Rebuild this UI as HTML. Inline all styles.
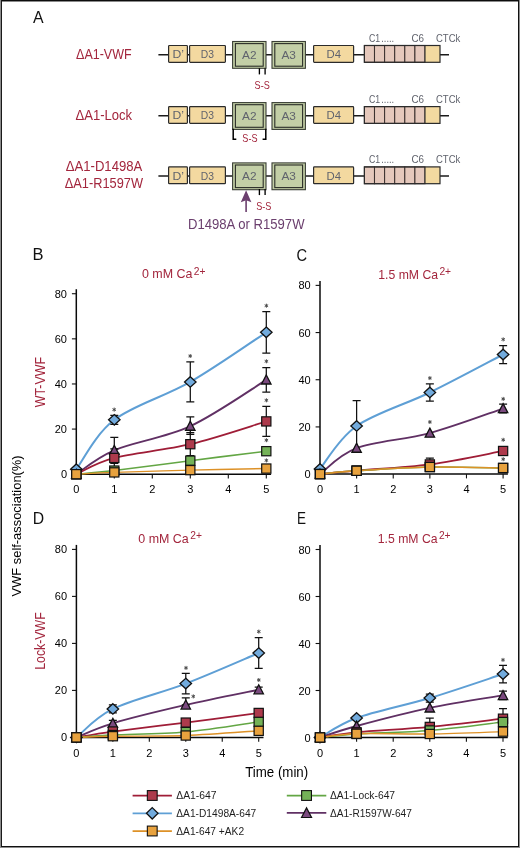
<!DOCTYPE html>
<html><head><meta charset="utf-8"><style>
html,body{margin:0;padding:0;background:#fff;}
body{width:520px;height:848px;overflow:hidden;position:relative;}
svg{position:absolute;left:0;top:0;font-family:"Liberation Sans",sans-serif;will-change:transform;}
</style></head><body>
<svg width="520" height="848" viewBox="0 0 520 848">
<rect x="0" y="0" width="520" height="848" fill="#fff"/>
<g>
<text x="33.1" y="22.6" font-size="16.5" fill="#111" text-anchor="start" textLength="10.6" lengthAdjust="spacingAndGlyphs" >A</text>
<text x="103.8" y="59.2" font-size="14.6" fill="#a3263d" text-anchor="middle" textLength="55.5" lengthAdjust="spacingAndGlyphs" >&#916;A1-VWF</text>
<text x="103.8" y="119.6" font-size="14.6" fill="#a3263d" text-anchor="middle" textLength="56.7" lengthAdjust="spacingAndGlyphs" >&#916;A1-Lock</text>
<text x="104.0" y="171.2" font-size="14.6" fill="#a3263d" text-anchor="middle" textLength="76.5" lengthAdjust="spacingAndGlyphs" >&#916;A1-D1498A</text>
<text x="103.9" y="187.5" font-size="14.6" fill="#a3263d" text-anchor="middle" textLength="78.2" lengthAdjust="spacingAndGlyphs" >&#916;A1-R1597W</text>
<line x1="158.4" y1="54.7" x2="449" y2="54.7" stroke="#1a1a1a" stroke-width="1.5"/>
<rect x="168.6" y="45.5" width="18.80" height="16.8" rx="0.8" fill="#f3d9a0" stroke="#2b2b2b" stroke-width="1.2"/>
<text x="172.5" y="58.300000000000004" font-size="10.8" fill="#60636d" text-anchor="start" textLength="11.5" lengthAdjust="spacingAndGlyphs" >D&#8217;</text>
<rect x="189.6" y="45.5" width="35.80" height="16.8" rx="0.8" fill="#f3d9a0" stroke="#2b2b2b" stroke-width="1.2"/>
<text x="200.8" y="58.300000000000004" font-size="10.8" fill="#60636d" text-anchor="start" textLength="13.2" lengthAdjust="spacingAndGlyphs" >D3</text>
<rect x="313.6" y="45.5" width="40.00" height="16.8" rx="0.8" fill="#f3d9a0" stroke="#2b2b2b" stroke-width="1.2"/>
<text x="326.5" y="58.300000000000004" font-size="10.8" fill="#60636d" text-anchor="start" textLength="14.5" lengthAdjust="spacingAndGlyphs" >D4</text>
<rect x="232.6" y="41.5" width="33.4" height="26.8" fill="#c3cfa6" stroke="#3a3f35" stroke-width="1.1"/>
<rect x="235.4" y="43.6" width="27.799999999999997" height="22.6" fill="#c3cfa6" stroke="#2a2d27" stroke-width="1.1"/>
<text x="249.29999999999998" y="58.6" font-size="11.4" fill="#60636d" text-anchor="middle" textLength="14.5" lengthAdjust="spacingAndGlyphs" >A2</text>
<rect x="272.0" y="41.5" width="33.4" height="26.8" fill="#c3cfa6" stroke="#3a3f35" stroke-width="1.1"/>
<rect x="274.8" y="43.6" width="27.799999999999997" height="22.6" fill="#c3cfa6" stroke="#2a2d27" stroke-width="1.1"/>
<text x="288.7" y="58.6" font-size="11.4" fill="#60636d" text-anchor="middle" textLength="14.5" lengthAdjust="spacingAndGlyphs" >A3</text>
<rect x="364.4" y="45.5" width="10.1" height="16.8" fill="#e5c8bc" stroke="#3d3230" stroke-width="1.05"/>
<rect x="374.5" y="45.5" width="10.1" height="16.8" fill="#e5c8bc" stroke="#3d3230" stroke-width="1.05"/>
<rect x="384.59999999999997" y="45.5" width="10.1" height="16.8" fill="#e5c8bc" stroke="#3d3230" stroke-width="1.05"/>
<rect x="394.7" y="45.5" width="10.1" height="16.8" fill="#e5c8bc" stroke="#3d3230" stroke-width="1.05"/>
<rect x="404.79999999999995" y="45.5" width="10.1" height="16.8" fill="#e5c8bc" stroke="#3d3230" stroke-width="1.05"/>
<rect x="414.9" y="45.5" width="10.1" height="16.8" fill="#e5c8bc" stroke="#3d3230" stroke-width="1.05"/>
<rect x="425.0" y="45.5" width="15.0" height="16.8" fill="#f3d9a0" stroke="none"/>
<rect x="364.4" y="45.5" width="75.60000000000002" height="16.8" fill="none" stroke="#2b2b2b" stroke-width="1.2"/>
<line x1="425.0" y1="45.5" x2="425.0" y2="62.3" stroke="#2b2b2b" stroke-width="1.1"/>
<text x="369.0" y="41.900000000000006" font-size="10.6" fill="#60636d" text-anchor="start" textLength="11.2" lengthAdjust="spacingAndGlyphs" >C1</text>
<text x="381.2" y="41.900000000000006" font-size="10.6" fill="#60636d" text-anchor="start" textLength="13.0" lengthAdjust="spacingAndGlyphs" >.....</text>
<text x="411.5" y="41.900000000000006" font-size="10.6" fill="#60636d" text-anchor="start" textLength="12.6" lengthAdjust="spacingAndGlyphs" >C6</text>
<text x="436.0" y="41.900000000000006" font-size="10.6" fill="#60636d" text-anchor="start" textLength="24.3" lengthAdjust="spacingAndGlyphs" >CTCk</text>
<line x1="158.4" y1="115.8" x2="449" y2="115.8" stroke="#1a1a1a" stroke-width="1.5"/>
<rect x="168.6" y="106.6" width="18.80" height="16.8" rx="0.8" fill="#f3d9a0" stroke="#2b2b2b" stroke-width="1.2"/>
<text x="172.5" y="119.39999999999999" font-size="10.8" fill="#60636d" text-anchor="start" textLength="11.5" lengthAdjust="spacingAndGlyphs" >D&#8217;</text>
<rect x="189.6" y="106.6" width="35.80" height="16.8" rx="0.8" fill="#f3d9a0" stroke="#2b2b2b" stroke-width="1.2"/>
<text x="200.8" y="119.39999999999999" font-size="10.8" fill="#60636d" text-anchor="start" textLength="13.2" lengthAdjust="spacingAndGlyphs" >D3</text>
<rect x="313.6" y="106.6" width="40.00" height="16.8" rx="0.8" fill="#f3d9a0" stroke="#2b2b2b" stroke-width="1.2"/>
<text x="326.5" y="119.39999999999999" font-size="10.8" fill="#60636d" text-anchor="start" textLength="14.5" lengthAdjust="spacingAndGlyphs" >D4</text>
<rect x="232.6" y="102.6" width="33.4" height="26.8" fill="#c3cfa6" stroke="#3a3f35" stroke-width="1.1"/>
<rect x="235.4" y="104.7" width="27.799999999999997" height="22.6" fill="#c3cfa6" stroke="#2a2d27" stroke-width="1.1"/>
<text x="249.29999999999998" y="119.7" font-size="11.4" fill="#60636d" text-anchor="middle" textLength="14.5" lengthAdjust="spacingAndGlyphs" >A2</text>
<rect x="272.0" y="102.6" width="33.4" height="26.8" fill="#c3cfa6" stroke="#3a3f35" stroke-width="1.1"/>
<rect x="274.8" y="104.7" width="27.799999999999997" height="22.6" fill="#c3cfa6" stroke="#2a2d27" stroke-width="1.1"/>
<text x="288.7" y="119.7" font-size="11.4" fill="#60636d" text-anchor="middle" textLength="14.5" lengthAdjust="spacingAndGlyphs" >A3</text>
<rect x="364.4" y="106.6" width="10.1" height="16.8" fill="#e5c8bc" stroke="#3d3230" stroke-width="1.05"/>
<rect x="374.5" y="106.6" width="10.1" height="16.8" fill="#e5c8bc" stroke="#3d3230" stroke-width="1.05"/>
<rect x="384.59999999999997" y="106.6" width="10.1" height="16.8" fill="#e5c8bc" stroke="#3d3230" stroke-width="1.05"/>
<rect x="394.7" y="106.6" width="10.1" height="16.8" fill="#e5c8bc" stroke="#3d3230" stroke-width="1.05"/>
<rect x="404.79999999999995" y="106.6" width="10.1" height="16.8" fill="#e5c8bc" stroke="#3d3230" stroke-width="1.05"/>
<rect x="414.9" y="106.6" width="10.1" height="16.8" fill="#e5c8bc" stroke="#3d3230" stroke-width="1.05"/>
<rect x="425.0" y="106.6" width="15.0" height="16.8" fill="#f3d9a0" stroke="none"/>
<rect x="364.4" y="106.6" width="75.60000000000002" height="16.8" fill="none" stroke="#2b2b2b" stroke-width="1.2"/>
<line x1="425.0" y1="106.6" x2="425.0" y2="123.39999999999999" stroke="#2b2b2b" stroke-width="1.1"/>
<text x="369.0" y="103.0" font-size="10.6" fill="#60636d" text-anchor="start" textLength="11.2" lengthAdjust="spacingAndGlyphs" >C1</text>
<text x="381.2" y="103.0" font-size="10.6" fill="#60636d" text-anchor="start" textLength="13.0" lengthAdjust="spacingAndGlyphs" >.....</text>
<text x="411.5" y="103.0" font-size="10.6" fill="#60636d" text-anchor="start" textLength="12.6" lengthAdjust="spacingAndGlyphs" >C6</text>
<text x="436.0" y="103.0" font-size="10.6" fill="#60636d" text-anchor="start" textLength="24.3" lengthAdjust="spacingAndGlyphs" >CTCk</text>
<line x1="158.4" y1="176.1" x2="449" y2="176.1" stroke="#1a1a1a" stroke-width="1.5"/>
<rect x="168.6" y="166.9" width="18.80" height="16.8" rx="0.8" fill="#f3d9a0" stroke="#2b2b2b" stroke-width="1.2"/>
<text x="172.5" y="179.7" font-size="10.8" fill="#60636d" text-anchor="start" textLength="11.5" lengthAdjust="spacingAndGlyphs" >D&#8217;</text>
<rect x="189.6" y="166.9" width="35.80" height="16.8" rx="0.8" fill="#f3d9a0" stroke="#2b2b2b" stroke-width="1.2"/>
<text x="200.8" y="179.7" font-size="10.8" fill="#60636d" text-anchor="start" textLength="13.2" lengthAdjust="spacingAndGlyphs" >D3</text>
<rect x="313.6" y="166.9" width="40.00" height="16.8" rx="0.8" fill="#f3d9a0" stroke="#2b2b2b" stroke-width="1.2"/>
<text x="326.5" y="179.7" font-size="10.8" fill="#60636d" text-anchor="start" textLength="14.5" lengthAdjust="spacingAndGlyphs" >D4</text>
<rect x="232.6" y="162.9" width="33.4" height="26.8" fill="#c3cfa6" stroke="#3a3f35" stroke-width="1.1"/>
<rect x="235.4" y="165.0" width="27.799999999999997" height="22.6" fill="#c3cfa6" stroke="#2a2d27" stroke-width="1.1"/>
<text x="249.29999999999998" y="180.0" font-size="11.4" fill="#60636d" text-anchor="middle" textLength="14.5" lengthAdjust="spacingAndGlyphs" >A2</text>
<rect x="272.0" y="162.9" width="33.4" height="26.8" fill="#c3cfa6" stroke="#3a3f35" stroke-width="1.1"/>
<rect x="274.8" y="165.0" width="27.799999999999997" height="22.6" fill="#c3cfa6" stroke="#2a2d27" stroke-width="1.1"/>
<text x="288.7" y="180.0" font-size="11.4" fill="#60636d" text-anchor="middle" textLength="14.5" lengthAdjust="spacingAndGlyphs" >A3</text>
<rect x="364.4" y="166.9" width="10.1" height="16.8" fill="#e5c8bc" stroke="#3d3230" stroke-width="1.05"/>
<rect x="374.5" y="166.9" width="10.1" height="16.8" fill="#e5c8bc" stroke="#3d3230" stroke-width="1.05"/>
<rect x="384.59999999999997" y="166.9" width="10.1" height="16.8" fill="#e5c8bc" stroke="#3d3230" stroke-width="1.05"/>
<rect x="394.7" y="166.9" width="10.1" height="16.8" fill="#e5c8bc" stroke="#3d3230" stroke-width="1.05"/>
<rect x="404.79999999999995" y="166.9" width="10.1" height="16.8" fill="#e5c8bc" stroke="#3d3230" stroke-width="1.05"/>
<rect x="414.9" y="166.9" width="10.1" height="16.8" fill="#e5c8bc" stroke="#3d3230" stroke-width="1.05"/>
<rect x="425.0" y="166.9" width="15.0" height="16.8" fill="#f3d9a0" stroke="none"/>
<rect x="364.4" y="166.9" width="75.60000000000002" height="16.8" fill="none" stroke="#2b2b2b" stroke-width="1.2"/>
<line x1="425.0" y1="166.9" x2="425.0" y2="183.70000000000002" stroke="#2b2b2b" stroke-width="1.1"/>
<text x="369.0" y="163.29999999999998" font-size="10.6" fill="#60636d" text-anchor="start" textLength="11.2" lengthAdjust="spacingAndGlyphs" >C1</text>
<text x="381.2" y="163.29999999999998" font-size="10.6" fill="#60636d" text-anchor="start" textLength="13.0" lengthAdjust="spacingAndGlyphs" >.....</text>
<text x="411.5" y="163.29999999999998" font-size="10.6" fill="#60636d" text-anchor="start" textLength="12.6" lengthAdjust="spacingAndGlyphs" >C6</text>
<text x="436.0" y="163.29999999999998" font-size="10.6" fill="#60636d" text-anchor="start" textLength="24.3" lengthAdjust="spacingAndGlyphs" >CTCk</text>
<line x1="259.4" y1="68.2" x2="259.4" y2="74.4" stroke="#000" stroke-width="1.35"/>
<line x1="265.1" y1="68.2" x2="265.1" y2="74.4" stroke="#000" stroke-width="1.35"/>
<text x="262.2" y="88.6" font-size="11.2" fill="#a3263d" text-anchor="middle" textLength="15.2" lengthAdjust="spacingAndGlyphs" >S-S</text>
<path d="M236.3 139.2 H233.2 V128.8 M262.6 139.2 H265.8 V128.8" fill="none" stroke="#000" stroke-width="1.5"/>
<text x="249.9" y="142.0" font-size="11.2" fill="#a3263d" text-anchor="middle" textLength="15.2" lengthAdjust="spacingAndGlyphs" >S-S</text>
<line x1="259.4" y1="189.0" x2="259.4" y2="195.1" stroke="#000" stroke-width="1.35"/>
<line x1="265.1" y1="189.0" x2="265.1" y2="195.1" stroke="#000" stroke-width="1.35"/>
<text x="263.8" y="210.0" font-size="11.2" fill="#a3263d" text-anchor="middle" textLength="15.2" lengthAdjust="spacingAndGlyphs" >S-S</text>
<line x1="246.1" y1="198" x2="246.1" y2="212" stroke="#6b3f6e" stroke-width="1.6"/>
<path d="M246.1 190.3 L251.4 202.2 L246.1 200.2 L240.8 202.2 Z" fill="#6b3f6e"/>
<text x="188.0" y="228.7" font-size="14.2" fill="#6b3f6e" text-anchor="start" textLength="116.5" lengthAdjust="spacingAndGlyphs" >D1498A or R1597W</text>
<line x1="76.30" y1="289.22" x2="76.30" y2="474.20" stroke="#0a0a0a" stroke-width="1.5"/>
<line x1="75.55" y1="474.20" x2="271.10" y2="474.20" stroke="#0a0a0a" stroke-width="1.5"/>
<text x="67.00" y="478.20" font-size="11" fill="#000" text-anchor="end" >0</text>
<line x1="71.90" y1="429.08" x2="76.30" y2="429.08" stroke="#111" stroke-width="1.1"/>
<text x="67.00" y="433.08" font-size="11" fill="#000" text-anchor="end" >20</text>
<line x1="71.90" y1="383.96" x2="76.30" y2="383.96" stroke="#111" stroke-width="1.1"/>
<text x="67.00" y="387.96" font-size="11" fill="#000" text-anchor="end" >40</text>
<line x1="71.90" y1="338.84" x2="76.30" y2="338.84" stroke="#111" stroke-width="1.1"/>
<text x="67.00" y="342.84" font-size="11" fill="#000" text-anchor="end" >60</text>
<line x1="71.90" y1="293.72" x2="76.30" y2="293.72" stroke="#111" stroke-width="1.1"/>
<text x="67.00" y="297.72" font-size="11" fill="#000" text-anchor="end" >80</text>
<text x="76.30" y="493.40" font-size="11" fill="#000" text-anchor="middle" >0</text>
<line x1="114.30" y1="474.20" x2="114.30" y2="478.50" stroke="#111" stroke-width="1.1"/>
<text x="114.30" y="493.40" font-size="11" fill="#000" text-anchor="middle" >1</text>
<line x1="152.30" y1="474.20" x2="152.30" y2="478.50" stroke="#111" stroke-width="1.1"/>
<text x="152.30" y="493.40" font-size="11" fill="#000" text-anchor="middle" >2</text>
<line x1="190.30" y1="474.20" x2="190.30" y2="478.50" stroke="#111" stroke-width="1.1"/>
<text x="190.30" y="493.40" font-size="11" fill="#000" text-anchor="middle" >3</text>
<line x1="228.30" y1="474.20" x2="228.30" y2="478.50" stroke="#111" stroke-width="1.1"/>
<text x="228.30" y="493.40" font-size="11" fill="#000" text-anchor="middle" >4</text>
<line x1="266.30" y1="474.20" x2="266.30" y2="478.50" stroke="#111" stroke-width="1.1"/>
<text x="266.30" y="493.40" font-size="11" fill="#000" text-anchor="middle" >5</text>
<path d="M76.30 469.24 C82.63 461.00 95.30 434.38 114.30 419.83 C133.30 405.28 164.97 396.52 190.30 381.93 C215.63 367.34 253.63 340.57 266.30 332.30" fill="none" stroke="#5e9fd5" stroke-width="2.0"/>
<path d="M76.30 474.20 C82.63 470.21 95.30 458.30 114.30 450.29 C133.30 442.28 164.97 437.88 190.30 426.15 C215.63 414.42 253.63 387.61 266.30 379.90" fill="none" stroke="#603064" stroke-width="1.85"/>
<path d="M76.30 474.20 C82.63 471.49 95.30 462.96 114.30 457.96 C133.30 452.96 164.97 450.29 190.30 444.20 C215.63 438.10 253.63 425.21 266.30 421.41" fill="none" stroke="#9f1d37" stroke-width="1.8"/>
<path d="M76.30 474.20 C82.63 473.60 95.30 472.85 114.30 470.59 C133.30 468.33 164.97 463.90 190.30 460.66 C215.63 457.43 253.63 452.77 266.30 451.19" fill="none" stroke="#63a644" stroke-width="1.55"/>
<path d="M76.30 474.20 C82.63 473.90 95.30 473.07 114.30 472.40 C133.30 471.72 164.97 470.78 190.30 470.14 C215.63 469.50 253.63 468.82 266.30 468.56" fill="none" stroke="#dd9127" stroke-width="1.45"/>
<path d="M114.30 415.33 V424.33 M110.30 415.33 H118.30 M110.30 424.33 H118.30" stroke="#111" stroke-width="1.25" fill="none"/>
<path d="M190.30 361.93 V401.93 M186.30 361.93 H194.30 M186.30 401.93 H194.30" stroke="#111" stroke-width="1.25" fill="none"/>
<path d="M266.30 311.60 V353.00 M262.30 311.60 H270.30 M262.30 353.00 H270.30" stroke="#111" stroke-width="1.25" fill="none"/>
<path d="M114.30 437.29 V463.29 M110.30 437.29 H118.30 M110.30 463.29 H118.30" stroke="#111" stroke-width="1.25" fill="none"/>
<path d="M190.30 416.95 V434.35 M186.30 416.95 H194.30 M186.30 434.35 H194.30" stroke="#111" stroke-width="1.25" fill="none"/>
<path d="M266.30 367.60 V392.20 M262.30 367.60 H270.30 M262.30 392.20 H270.30" stroke="#111" stroke-width="1.25" fill="none"/>
<path d="M114.30 448.96 V466.96 M110.30 448.96 H118.30 M110.30 466.96 H118.30" stroke="#111" stroke-width="1.25" fill="none"/>
<path d="M190.30 432.70 V455.70 M186.30 432.70 H194.30 M186.30 455.70 H194.30" stroke="#111" stroke-width="1.25" fill="none"/>
<path d="M266.30 406.41 V436.41 M262.30 406.41 H270.30 M262.30 436.41 H270.30" stroke="#111" stroke-width="1.25" fill="none"/>
<path d="M76.30 463.99 L82.05 469.24 L76.30 474.49 L70.55 469.24 Z" fill="#72abdd" stroke="#111" stroke-width="1.3"/>
<path d="M114.30 414.58 L120.05 419.83 L114.30 425.08 L108.55 419.83 Z" fill="#72abdd" stroke="#111" stroke-width="1.3"/>
<path d="M190.30 376.68 L196.05 381.93 L190.30 387.18 L184.55 381.93 Z" fill="#72abdd" stroke="#111" stroke-width="1.3"/>
<path d="M266.30 327.05 L272.05 332.30 L266.30 337.55 L260.55 332.30 Z" fill="#72abdd" stroke="#111" stroke-width="1.3"/>
<path d="M76.30 469.30 L81.00 478.30 L71.60 478.30 Z" fill="#7b4a7f" stroke="#111" stroke-width="1.3" stroke-linejoin="miter"/>
<path d="M114.30 445.39 L119.00 454.39 L109.60 454.39 Z" fill="#7b4a7f" stroke="#111" stroke-width="1.3" stroke-linejoin="miter"/>
<path d="M190.30 421.25 L195.00 430.25 L185.60 430.25 Z" fill="#7b4a7f" stroke="#111" stroke-width="1.3" stroke-linejoin="miter"/>
<path d="M266.30 375.00 L271.00 384.00 L261.60 384.00 Z" fill="#7b4a7f" stroke="#111" stroke-width="1.3" stroke-linejoin="miter"/>
<rect x="71.70" y="469.60" width="9.2" height="9.2" fill="#ad3a4c" stroke="#111" stroke-width="1.2"/>
<rect x="109.70" y="453.36" width="9.2" height="9.2" fill="#ad3a4c" stroke="#111" stroke-width="1.2"/>
<rect x="185.70" y="439.60" width="9.2" height="9.2" fill="#ad3a4c" stroke="#111" stroke-width="1.2"/>
<rect x="261.70" y="416.81" width="9.2" height="9.2" fill="#ad3a4c" stroke="#111" stroke-width="1.2"/>
<rect x="71.70" y="469.60" width="9.2" height="9.2" fill="#74b257" stroke="#111" stroke-width="1.2"/>
<rect x="109.70" y="465.99" width="9.2" height="9.2" fill="#74b257" stroke="#111" stroke-width="1.2"/>
<rect x="185.70" y="456.06" width="9.2" height="9.2" fill="#74b257" stroke="#111" stroke-width="1.2"/>
<rect x="261.70" y="446.59" width="9.2" height="9.2" fill="#74b257" stroke="#111" stroke-width="1.2"/>
<rect x="71.70" y="469.60" width="9.2" height="9.2" fill="#e8a23e" stroke="#111" stroke-width="1.2"/>
<rect x="109.70" y="467.80" width="9.2" height="9.2" fill="#e8a23e" stroke="#111" stroke-width="1.2"/>
<rect x="185.70" y="465.54" width="9.2" height="9.2" fill="#e8a23e" stroke="#111" stroke-width="1.2"/>
<rect x="261.70" y="463.96" width="9.2" height="9.2" fill="#e8a23e" stroke="#111" stroke-width="1.2"/>
<path d="M114.20 407.60 L114.20 411.60 M112.47 408.60 L115.93 410.60 M115.93 408.60 L112.47 410.60 " stroke="#4a4a4a" stroke-width="1.0" fill="none"/>
<path d="M190.20 354.00 L190.20 358.00 M188.47 355.00 L191.93 357.00 M191.93 355.00 L188.47 357.00 " stroke="#4a4a4a" stroke-width="1.0" fill="none"/>
<path d="M266.40 303.70 L266.40 307.70 M264.67 304.70 L268.13 306.70 M268.13 304.70 L264.67 306.70 " stroke="#4a4a4a" stroke-width="1.0" fill="none"/>
<path d="M266.40 359.30 L266.40 363.30 M264.67 360.30 L268.13 362.30 M268.13 360.30 L264.67 362.30 " stroke="#4a4a4a" stroke-width="1.0" fill="none"/>
<path d="M266.40 398.30 L266.40 402.30 M264.67 399.30 L268.13 401.30 M268.13 399.30 L264.67 401.30 " stroke="#4a4a4a" stroke-width="1.0" fill="none"/>
<path d="M266.40 438.20 L266.40 442.20 M264.67 439.20 L268.13 441.20 M268.13 439.20 L264.67 441.20 " stroke="#4a4a4a" stroke-width="1.0" fill="none"/>
<path d="M266.40 458.40 L266.40 462.40 M264.67 459.40 L268.13 461.40 M268.13 459.40 L264.67 461.40 " stroke="#4a4a4a" stroke-width="1.0" fill="none"/>
<line x1="320.00" y1="280.88" x2="320.00" y2="474.10" stroke="#0a0a0a" stroke-width="1.5"/>
<line x1="319.25" y1="474.10" x2="507.90" y2="474.10" stroke="#0a0a0a" stroke-width="1.5"/>
<text x="310.70" y="478.10" font-size="11" fill="#000" text-anchor="end" >0</text>
<line x1="315.60" y1="426.92" x2="320.00" y2="426.92" stroke="#111" stroke-width="1.1"/>
<text x="310.70" y="430.92" font-size="11" fill="#000" text-anchor="end" >20</text>
<line x1="315.60" y1="379.74" x2="320.00" y2="379.74" stroke="#111" stroke-width="1.1"/>
<text x="310.70" y="383.74" font-size="11" fill="#000" text-anchor="end" >40</text>
<line x1="315.60" y1="332.56" x2="320.00" y2="332.56" stroke="#111" stroke-width="1.1"/>
<text x="310.70" y="336.56" font-size="11" fill="#000" text-anchor="end" >60</text>
<line x1="315.60" y1="285.38" x2="320.00" y2="285.38" stroke="#111" stroke-width="1.1"/>
<text x="310.70" y="289.38" font-size="11" fill="#000" text-anchor="end" >80</text>
<text x="320.00" y="493.30" font-size="11" fill="#000" text-anchor="middle" >0</text>
<line x1="356.62" y1="474.10" x2="356.62" y2="478.40" stroke="#111" stroke-width="1.1"/>
<text x="356.62" y="493.30" font-size="11" fill="#000" text-anchor="middle" >1</text>
<line x1="393.24" y1="474.10" x2="393.24" y2="478.40" stroke="#111" stroke-width="1.1"/>
<text x="393.24" y="493.30" font-size="11" fill="#000" text-anchor="middle" >2</text>
<line x1="429.86" y1="474.10" x2="429.86" y2="478.40" stroke="#111" stroke-width="1.1"/>
<text x="429.86" y="493.30" font-size="11" fill="#000" text-anchor="middle" >3</text>
<line x1="466.48" y1="474.10" x2="466.48" y2="478.40" stroke="#111" stroke-width="1.1"/>
<text x="466.48" y="493.30" font-size="11" fill="#000" text-anchor="middle" >4</text>
<line x1="503.10" y1="474.10" x2="503.10" y2="478.40" stroke="#111" stroke-width="1.1"/>
<text x="503.10" y="493.30" font-size="11" fill="#000" text-anchor="middle" >5</text>
<path d="M320.00 468.91 C326.10 461.75 338.31 438.72 356.62 425.98 C374.93 413.24 405.45 404.39 429.86 392.48 C454.27 380.57 490.89 360.83 503.10 354.50" fill="none" stroke="#5e9fd5" stroke-width="2.0"/>
<path d="M320.00 474.10 C326.10 469.78 338.31 454.99 356.62 448.15 C374.93 441.31 405.45 439.66 429.86 433.05 C454.27 426.45 490.89 412.61 503.10 408.52" fill="none" stroke="#603064" stroke-width="1.85"/>
<path d="M320.00 474.10 C326.10 473.51 338.31 472.17 356.62 470.56 C374.93 468.95 405.45 467.69 429.86 464.43 C454.27 461.16 490.89 453.22 503.10 450.98" fill="none" stroke="#9f1d37" stroke-width="1.8"/>
<path d="M320.00 474.10 C326.10 473.55 338.31 471.98 356.62 470.80 C374.93 469.62 405.45 467.49 429.86 467.02 C454.27 466.55 490.89 467.81 503.10 467.97" fill="none" stroke="#63a644" stroke-width="1.55"/>
<path d="M320.00 474.10 C326.10 473.55 338.31 471.98 356.62 470.80 C374.93 469.62 405.45 467.49 429.86 467.02 C454.27 466.55 490.89 467.81 503.10 467.97" fill="none" stroke="#dd9127" stroke-width="1.45"/>
<path d="M356.62 400.68 V451.28 M352.62 400.68 H360.62 M352.62 451.28 H360.62" stroke="#111" stroke-width="1.25" fill="none"/>
<path d="M429.86 383.88 V401.08 M425.86 383.88 H433.86 M425.86 401.08 H433.86" stroke="#111" stroke-width="1.25" fill="none"/>
<path d="M503.10 345.50 V363.50 M499.10 345.50 H507.10 M499.10 363.50 H507.10" stroke="#111" stroke-width="1.25" fill="none"/>
<path d="M503.10 404.22 V412.82 M499.10 404.22 H507.10 M499.10 412.82 H507.10" stroke="#111" stroke-width="1.25" fill="none"/>
<path d="M429.86 458.03 V470.83 M425.86 458.03 H433.86 M425.86 470.83 H433.86" stroke="#111" stroke-width="1.25" fill="none"/>
<path d="M320.00 463.66 L325.75 468.91 L320.00 474.16 L314.25 468.91 Z" fill="#72abdd" stroke="#111" stroke-width="1.3"/>
<path d="M356.62 420.73 L362.37 425.98 L356.62 431.23 L350.87 425.98 Z" fill="#72abdd" stroke="#111" stroke-width="1.3"/>
<path d="M429.86 387.23 L435.61 392.48 L429.86 397.73 L424.11 392.48 Z" fill="#72abdd" stroke="#111" stroke-width="1.3"/>
<path d="M503.10 349.25 L508.85 354.50 L503.10 359.75 L497.35 354.50 Z" fill="#72abdd" stroke="#111" stroke-width="1.3"/>
<path d="M320.00 469.20 L324.70 478.20 L315.30 478.20 Z" fill="#7b4a7f" stroke="#111" stroke-width="1.3" stroke-linejoin="miter"/>
<path d="M356.62 443.25 L361.32 452.25 L351.92 452.25 Z" fill="#7b4a7f" stroke="#111" stroke-width="1.3" stroke-linejoin="miter"/>
<path d="M429.86 428.15 L434.56 437.15 L425.16 437.15 Z" fill="#7b4a7f" stroke="#111" stroke-width="1.3" stroke-linejoin="miter"/>
<path d="M503.10 403.62 L507.80 412.62 L498.40 412.62 Z" fill="#7b4a7f" stroke="#111" stroke-width="1.3" stroke-linejoin="miter"/>
<rect x="315.40" y="469.50" width="9.2" height="9.2" fill="#ad3a4c" stroke="#111" stroke-width="1.2"/>
<rect x="352.02" y="465.96" width="9.2" height="9.2" fill="#ad3a4c" stroke="#111" stroke-width="1.2"/>
<rect x="425.26" y="459.83" width="9.2" height="9.2" fill="#ad3a4c" stroke="#111" stroke-width="1.2"/>
<rect x="498.50" y="446.38" width="9.2" height="9.2" fill="#ad3a4c" stroke="#111" stroke-width="1.2"/>
<rect x="315.40" y="469.50" width="9.2" height="9.2" fill="#74b257" stroke="#111" stroke-width="1.2"/>
<rect x="352.02" y="466.20" width="9.2" height="9.2" fill="#74b257" stroke="#111" stroke-width="1.2"/>
<rect x="425.26" y="462.42" width="9.2" height="9.2" fill="#74b257" stroke="#111" stroke-width="1.2"/>
<rect x="498.50" y="463.37" width="9.2" height="9.2" fill="#74b257" stroke="#111" stroke-width="1.2"/>
<rect x="315.40" y="469.50" width="9.2" height="9.2" fill="#e8a23e" stroke="#111" stroke-width="1.2"/>
<rect x="352.02" y="466.20" width="9.2" height="9.2" fill="#e8a23e" stroke="#111" stroke-width="1.2"/>
<rect x="425.26" y="462.42" width="9.2" height="9.2" fill="#e8a23e" stroke="#111" stroke-width="1.2"/>
<rect x="498.50" y="463.37" width="9.2" height="9.2" fill="#e8a23e" stroke="#111" stroke-width="1.2"/>
<path d="M429.90 376.10 L429.90 380.10 M428.17 377.10 L431.63 379.10 M431.63 377.10 L428.17 379.10 " stroke="#4a4a4a" stroke-width="1.0" fill="none"/>
<path d="M429.90 420.00 L429.90 424.00 M428.17 421.00 L431.63 423.00 M431.63 421.00 L428.17 423.00 " stroke="#4a4a4a" stroke-width="1.0" fill="none"/>
<path d="M503.20 337.40 L503.20 341.40 M501.47 338.40 L504.93 340.40 M504.93 338.40 L501.47 340.40 " stroke="#4a4a4a" stroke-width="1.0" fill="none"/>
<path d="M503.20 396.90 L503.20 400.90 M501.47 397.90 L504.93 399.90 M504.93 397.90 L501.47 399.90 " stroke="#4a4a4a" stroke-width="1.0" fill="none"/>
<path d="M503.20 437.80 L503.20 441.80 M501.47 438.80 L504.93 440.80 M504.93 438.80 L501.47 440.80 " stroke="#4a4a4a" stroke-width="1.0" fill="none"/>
<path d="M503.20 457.20 L503.20 461.20 M501.47 458.20 L504.93 460.20 M504.93 458.20 L501.47 460.20 " stroke="#4a4a4a" stroke-width="1.0" fill="none"/>
<line x1="76.40" y1="544.90" x2="76.40" y2="737.40" stroke="#0a0a0a" stroke-width="1.5"/>
<line x1="75.65" y1="737.40" x2="263.50" y2="737.40" stroke="#0a0a0a" stroke-width="1.5"/>
<text x="67.10" y="741.40" font-size="11" fill="#000" text-anchor="end" >0</text>
<line x1="72.00" y1="690.40" x2="76.40" y2="690.40" stroke="#111" stroke-width="1.1"/>
<text x="67.10" y="694.40" font-size="11" fill="#000" text-anchor="end" >20</text>
<line x1="72.00" y1="643.40" x2="76.40" y2="643.40" stroke="#111" stroke-width="1.1"/>
<text x="67.10" y="647.40" font-size="11" fill="#000" text-anchor="end" >40</text>
<line x1="72.00" y1="596.40" x2="76.40" y2="596.40" stroke="#111" stroke-width="1.1"/>
<text x="67.10" y="600.40" font-size="11" fill="#000" text-anchor="end" >60</text>
<line x1="72.00" y1="549.40" x2="76.40" y2="549.40" stroke="#111" stroke-width="1.1"/>
<text x="67.10" y="553.40" font-size="11" fill="#000" text-anchor="end" >80</text>
<text x="76.40" y="756.60" font-size="11" fill="#000" text-anchor="middle" >0</text>
<line x1="112.86" y1="737.40" x2="112.86" y2="741.70" stroke="#111" stroke-width="1.1"/>
<text x="112.86" y="756.60" font-size="11" fill="#000" text-anchor="middle" >1</text>
<line x1="149.32" y1="737.40" x2="149.32" y2="741.70" stroke="#111" stroke-width="1.1"/>
<text x="149.32" y="756.60" font-size="11" fill="#000" text-anchor="middle" >2</text>
<line x1="185.78" y1="737.40" x2="185.78" y2="741.70" stroke="#111" stroke-width="1.1"/>
<text x="185.78" y="756.60" font-size="11" fill="#000" text-anchor="middle" >3</text>
<line x1="222.24" y1="737.40" x2="222.24" y2="741.70" stroke="#111" stroke-width="1.1"/>
<text x="222.24" y="756.60" font-size="11" fill="#000" text-anchor="middle" >4</text>
<line x1="258.70" y1="737.40" x2="258.70" y2="741.70" stroke="#111" stroke-width="1.1"/>
<text x="258.70" y="756.60" font-size="11" fill="#000" text-anchor="middle" >5</text>
<path d="M76.40 737.40 C82.48 732.66 94.63 717.93 112.86 708.97 C131.09 700.00 161.47 692.91 185.78 683.59 C210.09 674.26 246.55 658.13 258.70 653.03" fill="none" stroke="#5e9fd5" stroke-width="2.0"/>
<path d="M76.40 737.40 C82.48 735.05 94.63 728.70 112.86 723.30 C131.09 717.89 161.47 710.57 185.78 704.97 C210.09 699.37 246.55 692.24 258.70 689.69" fill="none" stroke="#603064" stroke-width="1.85"/>
<path d="M76.40 737.40 C82.48 736.42 94.63 733.99 112.86 731.52 C131.09 729.06 161.47 725.69 185.78 722.60 C210.09 719.50 246.55 714.57 258.70 712.96" fill="none" stroke="#9f1d37" stroke-width="1.8"/>
<path d="M76.40 737.40 C82.48 737.01 94.63 735.95 112.86 735.05 C131.09 734.15 161.47 734.19 185.78 732.00 C210.09 729.80 246.55 723.57 258.70 721.89" fill="none" stroke="#63a644" stroke-width="1.55"/>
<path d="M76.40 737.40 C82.48 737.20 94.63 736.54 112.86 736.23 C131.09 735.91 161.47 736.42 185.78 735.52 C210.09 734.62 246.55 731.60 258.70 730.82" fill="none" stroke="#dd9127" stroke-width="1.45"/>
<path d="M112.86 704.97 V712.97 M108.86 704.97 H116.86 M108.86 712.97 H116.86" stroke="#111" stroke-width="1.25" fill="none"/>
<path d="M185.78 673.29 V693.88 M181.78 673.29 H189.78 M181.78 693.88 H189.78" stroke="#111" stroke-width="1.25" fill="none"/>
<path d="M258.70 637.63 V668.43 M254.70 637.63 H262.70 M254.70 668.43 H262.70" stroke="#111" stroke-width="1.25" fill="none"/>
<path d="M112.86 720.30 V726.30 M108.86 720.30 H116.86 M108.86 726.30 H116.86" stroke="#111" stroke-width="1.25" fill="none"/>
<path d="M185.78 697.77 V704.97 M181.78 697.77 H189.78 M181.78 704.97 H189.78" stroke="#111" stroke-width="1.25" fill="none"/>
<path d="M258.70 687.19 V692.19 M254.70 687.19 H262.70 M254.70 692.19 H262.70" stroke="#111" stroke-width="1.25" fill="none"/>
<path d="M76.40 732.15 L82.15 737.40 L76.40 742.65 L70.65 737.40 Z" fill="#72abdd" stroke="#111" stroke-width="1.3"/>
<path d="M112.86 703.72 L118.61 708.97 L112.86 714.22 L107.11 708.97 Z" fill="#72abdd" stroke="#111" stroke-width="1.3"/>
<path d="M185.78 678.34 L191.53 683.59 L185.78 688.84 L180.03 683.59 Z" fill="#72abdd" stroke="#111" stroke-width="1.3"/>
<path d="M258.70 647.78 L264.45 653.03 L258.70 658.28 L252.95 653.03 Z" fill="#72abdd" stroke="#111" stroke-width="1.3"/>
<path d="M76.40 732.50 L81.10 741.50 L71.70 741.50 Z" fill="#7b4a7f" stroke="#111" stroke-width="1.3" stroke-linejoin="miter"/>
<path d="M112.86 718.40 L117.56 727.40 L108.16 727.40 Z" fill="#7b4a7f" stroke="#111" stroke-width="1.3" stroke-linejoin="miter"/>
<path d="M185.78 700.07 L190.48 709.07 L181.08 709.07 Z" fill="#7b4a7f" stroke="#111" stroke-width="1.3" stroke-linejoin="miter"/>
<path d="M258.70 684.79 L263.40 693.79 L254.00 693.79 Z" fill="#7b4a7f" stroke="#111" stroke-width="1.3" stroke-linejoin="miter"/>
<rect x="71.80" y="732.80" width="9.2" height="9.2" fill="#ad3a4c" stroke="#111" stroke-width="1.2"/>
<rect x="108.26" y="726.92" width="9.2" height="9.2" fill="#ad3a4c" stroke="#111" stroke-width="1.2"/>
<rect x="181.18" y="718.00" width="9.2" height="9.2" fill="#ad3a4c" stroke="#111" stroke-width="1.2"/>
<rect x="254.10" y="708.36" width="9.2" height="9.2" fill="#ad3a4c" stroke="#111" stroke-width="1.2"/>
<rect x="71.80" y="732.80" width="9.2" height="9.2" fill="#74b257" stroke="#111" stroke-width="1.2"/>
<rect x="108.26" y="730.45" width="9.2" height="9.2" fill="#74b257" stroke="#111" stroke-width="1.2"/>
<rect x="181.18" y="727.39" width="9.2" height="9.2" fill="#74b257" stroke="#111" stroke-width="1.2"/>
<rect x="254.10" y="717.29" width="9.2" height="9.2" fill="#74b257" stroke="#111" stroke-width="1.2"/>
<rect x="71.80" y="732.80" width="9.2" height="9.2" fill="#e8a23e" stroke="#111" stroke-width="1.2"/>
<rect x="108.26" y="731.62" width="9.2" height="9.2" fill="#e8a23e" stroke="#111" stroke-width="1.2"/>
<rect x="181.18" y="730.92" width="9.2" height="9.2" fill="#e8a23e" stroke="#111" stroke-width="1.2"/>
<rect x="254.10" y="726.22" width="9.2" height="9.2" fill="#e8a23e" stroke="#111" stroke-width="1.2"/>
<path d="M186.00 665.90 L186.00 669.90 M184.27 666.90 L187.73 668.90 M187.73 666.90 L184.27 668.90 " stroke="#4a4a4a" stroke-width="1.0" fill="none"/>
<path d="M193.30 694.40 L193.30 698.40 M191.57 695.40 L195.03 697.40 M195.03 695.40 L191.57 697.40 " stroke="#4a4a4a" stroke-width="1.0" fill="none"/>
<path d="M258.80 629.60 L258.80 633.60 M257.07 630.60 L260.53 632.60 M260.53 630.60 L257.07 632.60 " stroke="#4a4a4a" stroke-width="1.0" fill="none"/>
<path d="M258.80 678.00 L258.80 682.00 M257.07 679.00 L260.53 681.00 M260.53 679.00 L257.07 681.00 " stroke="#4a4a4a" stroke-width="1.0" fill="none"/>
<line x1="320.00" y1="545.00" x2="320.00" y2="737.50" stroke="#0a0a0a" stroke-width="1.5"/>
<line x1="319.25" y1="737.50" x2="507.80" y2="737.50" stroke="#0a0a0a" stroke-width="1.5"/>
<text x="310.70" y="741.50" font-size="11" fill="#000" text-anchor="end" >0</text>
<line x1="315.60" y1="690.50" x2="320.00" y2="690.50" stroke="#111" stroke-width="1.1"/>
<text x="310.70" y="694.50" font-size="11" fill="#000" text-anchor="end" >20</text>
<line x1="315.60" y1="643.50" x2="320.00" y2="643.50" stroke="#111" stroke-width="1.1"/>
<text x="310.70" y="647.50" font-size="11" fill="#000" text-anchor="end" >40</text>
<line x1="315.60" y1="596.50" x2="320.00" y2="596.50" stroke="#111" stroke-width="1.1"/>
<text x="310.70" y="600.50" font-size="11" fill="#000" text-anchor="end" >60</text>
<line x1="315.60" y1="549.50" x2="320.00" y2="549.50" stroke="#111" stroke-width="1.1"/>
<text x="310.70" y="553.50" font-size="11" fill="#000" text-anchor="end" >80</text>
<text x="320.00" y="756.70" font-size="11" fill="#000" text-anchor="middle" >0</text>
<line x1="356.60" y1="737.50" x2="356.60" y2="741.80" stroke="#111" stroke-width="1.1"/>
<text x="356.60" y="756.70" font-size="11" fill="#000" text-anchor="middle" >1</text>
<line x1="393.20" y1="737.50" x2="393.20" y2="741.80" stroke="#111" stroke-width="1.1"/>
<text x="393.20" y="756.70" font-size="11" fill="#000" text-anchor="middle" >2</text>
<line x1="429.80" y1="737.50" x2="429.80" y2="741.80" stroke="#111" stroke-width="1.1"/>
<text x="429.80" y="756.70" font-size="11" fill="#000" text-anchor="middle" >3</text>
<line x1="466.40" y1="737.50" x2="466.40" y2="741.80" stroke="#111" stroke-width="1.1"/>
<text x="466.40" y="756.70" font-size="11" fill="#000" text-anchor="middle" >4</text>
<line x1="503.00" y1="737.50" x2="503.00" y2="741.80" stroke="#111" stroke-width="1.1"/>
<text x="503.00" y="756.70" font-size="11" fill="#000" text-anchor="middle" >5</text>
<path d="M320.00 737.50 C326.10 734.25 338.30 724.58 356.60 718.00 C374.90 711.41 405.40 705.34 429.80 698.02 C454.20 690.70 490.80 678.04 503.00 674.05" fill="none" stroke="#5e9fd5" stroke-width="2.0"/>
<path d="M320.00 737.50 C326.10 735.58 338.30 730.92 356.60 725.99 C374.90 721.05 405.40 712.98 429.80 707.89 C454.20 702.80 490.80 697.51 503.00 695.43" fill="none" stroke="#603064" stroke-width="1.85"/>
<path d="M320.00 737.50 C326.10 736.64 338.30 734.09 356.60 732.33 C374.90 730.57 405.40 729.20 429.80 726.92 C454.20 724.65 490.80 720.07 503.00 718.70" fill="none" stroke="#9f1d37" stroke-width="1.8"/>
<path d="M320.00 737.50 C326.10 736.91 338.30 735.15 356.60 733.98 C374.90 732.80 405.40 732.45 429.80 730.45 C454.20 728.45 490.80 723.40 503.00 721.99" fill="none" stroke="#63a644" stroke-width="1.55"/>
<path d="M320.00 737.50 C326.10 736.87 338.30 734.33 356.60 733.74 C374.90 733.15 405.40 734.33 429.80 733.98 C454.20 733.62 490.80 732.02 503.00 731.62" fill="none" stroke="#dd9127" stroke-width="1.45"/>
<path d="M429.80 694.02 V702.02 M425.80 694.02 H433.80 M425.80 702.02 H433.80" stroke="#111" stroke-width="1.25" fill="none"/>
<path d="M503.00 665.25 V682.85 M499.00 665.25 H507.00 M499.00 682.85 H507.00" stroke="#111" stroke-width="1.25" fill="none"/>
<path d="M503.00 691.23 V699.63 M499.00 691.23 H507.00 M499.00 699.63 H507.00" stroke="#111" stroke-width="1.25" fill="none"/>
<path d="M429.80 718.12 V735.72 M425.80 718.12 H433.80 M425.80 735.72 H433.80" stroke="#111" stroke-width="1.25" fill="none"/>
<path d="M503.00 708.70 V728.70 M499.00 708.70 H507.00 M499.00 728.70 H507.00" stroke="#111" stroke-width="1.25" fill="none"/>
<path d="M320.00 732.25 L325.75 737.50 L320.00 742.75 L314.25 737.50 Z" fill="#72abdd" stroke="#111" stroke-width="1.3"/>
<path d="M356.60 712.75 L362.35 718.00 L356.60 723.25 L350.85 718.00 Z" fill="#72abdd" stroke="#111" stroke-width="1.3"/>
<path d="M429.80 692.77 L435.55 698.02 L429.80 703.27 L424.05 698.02 Z" fill="#72abdd" stroke="#111" stroke-width="1.3"/>
<path d="M503.00 668.80 L508.75 674.05 L503.00 679.30 L497.25 674.05 Z" fill="#72abdd" stroke="#111" stroke-width="1.3"/>
<path d="M320.00 732.60 L324.70 741.60 L315.30 741.60 Z" fill="#7b4a7f" stroke="#111" stroke-width="1.3" stroke-linejoin="miter"/>
<path d="M356.60 721.09 L361.30 730.09 L351.90 730.09 Z" fill="#7b4a7f" stroke="#111" stroke-width="1.3" stroke-linejoin="miter"/>
<path d="M429.80 702.99 L434.50 711.99 L425.10 711.99 Z" fill="#7b4a7f" stroke="#111" stroke-width="1.3" stroke-linejoin="miter"/>
<path d="M503.00 690.53 L507.70 699.53 L498.30 699.53 Z" fill="#7b4a7f" stroke="#111" stroke-width="1.3" stroke-linejoin="miter"/>
<rect x="315.40" y="732.90" width="9.2" height="9.2" fill="#ad3a4c" stroke="#111" stroke-width="1.2"/>
<rect x="352.00" y="727.73" width="9.2" height="9.2" fill="#ad3a4c" stroke="#111" stroke-width="1.2"/>
<rect x="425.20" y="722.32" width="9.2" height="9.2" fill="#ad3a4c" stroke="#111" stroke-width="1.2"/>
<rect x="498.40" y="714.10" width="9.2" height="9.2" fill="#ad3a4c" stroke="#111" stroke-width="1.2"/>
<rect x="315.40" y="732.90" width="9.2" height="9.2" fill="#74b257" stroke="#111" stroke-width="1.2"/>
<rect x="352.00" y="729.38" width="9.2" height="9.2" fill="#74b257" stroke="#111" stroke-width="1.2"/>
<rect x="425.20" y="725.85" width="9.2" height="9.2" fill="#74b257" stroke="#111" stroke-width="1.2"/>
<rect x="498.40" y="717.39" width="9.2" height="9.2" fill="#74b257" stroke="#111" stroke-width="1.2"/>
<rect x="315.40" y="732.90" width="9.2" height="9.2" fill="#e8a23e" stroke="#111" stroke-width="1.2"/>
<rect x="352.00" y="729.14" width="9.2" height="9.2" fill="#e8a23e" stroke="#111" stroke-width="1.2"/>
<rect x="425.20" y="729.38" width="9.2" height="9.2" fill="#e8a23e" stroke="#111" stroke-width="1.2"/>
<rect x="498.40" y="727.02" width="9.2" height="9.2" fill="#e8a23e" stroke="#111" stroke-width="1.2"/>
<path d="M503.00 657.90 L503.00 661.90 M501.27 658.90 L504.73 660.90 M504.73 658.90 L501.27 660.90 " stroke="#4a4a4a" stroke-width="1.0" fill="none"/>
<text x="32.6" y="260.4" font-size="16.5" fill="#111" text-anchor="start" >B</text>
<text x="296.4" y="260.7" font-size="16.5" fill="#111" text-anchor="start" textLength="10.6" lengthAdjust="spacingAndGlyphs" >C</text>
<text x="32.8" y="524.3" font-size="16.5" fill="#111" text-anchor="start" textLength="11.4" lengthAdjust="spacingAndGlyphs" >D</text>
<text x="296.9" y="524.3" font-size="16.5" fill="#111" text-anchor="start" textLength="9.0" lengthAdjust="spacingAndGlyphs" >E</text>
<text x="141.9" y="278.3" font-size="12.9" fill="#a3263d" text-anchor="start" textLength="50.5" lengthAdjust="spacingAndGlyphs" >0 mM Ca</text>
<text x="193.8" y="274.5" font-size="10.3" fill="#a3263d" text-anchor="start" textLength="11.7" lengthAdjust="spacingAndGlyphs" >2+</text>
<text x="378.3" y="278.5" font-size="12.9" fill="#a3263d" text-anchor="start" textLength="59.7" lengthAdjust="spacingAndGlyphs" >1.5 mM Ca</text>
<text x="439.4" y="274.7" font-size="10.3" fill="#a3263d" text-anchor="start" textLength="11.7" lengthAdjust="spacingAndGlyphs" >2+</text>
<text x="138.3" y="542.5" font-size="12.9" fill="#a3263d" text-anchor="start" textLength="50.5" lengthAdjust="spacingAndGlyphs" >0 mM Ca</text>
<text x="190.20000000000002" y="538.7" font-size="10.3" fill="#a3263d" text-anchor="start" textLength="11.7" lengthAdjust="spacingAndGlyphs" >2+</text>
<text x="377.8" y="542.5" font-size="12.9" fill="#a3263d" text-anchor="start" textLength="59.7" lengthAdjust="spacingAndGlyphs" >1.5 mM Ca</text>
<text x="438.9" y="538.7" font-size="10.3" fill="#a3263d" text-anchor="start" textLength="11.7" lengthAdjust="spacingAndGlyphs" >2+</text>
<text transform="translate(45.3 382.1) rotate(-90)" font-size="14" fill="#a3263d" text-anchor="middle" textLength="50.2" lengthAdjust="spacingAndGlyphs">WT-VWF</text>
<text transform="translate(45.3 641.0) rotate(-90)" font-size="14" fill="#a3263d" text-anchor="middle" textLength="57.5" lengthAdjust="spacingAndGlyphs">Lock-VWF</text>
<text transform="translate(21.0 525.9) rotate(-90)" font-size="12.6" fill="#000" text-anchor="middle" textLength="141" lengthAdjust="spacingAndGlyphs">VWF self-association(%)</text>
<text x="245.2" y="776.5" font-size="14.4" fill="#000" text-anchor="start" textLength="63.0" lengthAdjust="spacingAndGlyphs" >Time (min)</text>
<line x1="132.6" y1="795.5" x2="171.9" y2="795.5" stroke="#9f1d37" stroke-width="1.75"/>
<rect x="147.35" y="790.6" width="9.8" height="9.8" fill="#ad3a4c" stroke="#111" stroke-width="1.1"/>
<text x="176.3" y="799.3" font-size="10.9" fill="#1e1e1e" text-anchor="start" textLength="40.3" lengthAdjust="spacingAndGlyphs" >&#916;A1-647</text>
<line x1="132.6" y1="813.3" x2="171.9" y2="813.3" stroke="#5e9fd5" stroke-width="1.75"/>
<path d="M152.25 807.5999999999999 L158.05 813.3 L152.25 819.0 L146.45 813.3 Z" fill="#72abdd" stroke="#111" stroke-width="1.25"/>
<text x="176.3" y="817.0999999999999" font-size="10.9" fill="#1e1e1e" text-anchor="start" textLength="80.0" lengthAdjust="spacingAndGlyphs" >&#916;A1-D1498A-647</text>
<line x1="132.6" y1="831.0" x2="171.9" y2="831.0" stroke="#dd9127" stroke-width="1.75"/>
<rect x="147.35" y="826.1" width="9.8" height="9.8" fill="#e8a23e" stroke="#111" stroke-width="1.1"/>
<text x="176.3" y="834.8" font-size="10.9" fill="#1e1e1e" text-anchor="start" textLength="67.8" lengthAdjust="spacingAndGlyphs" >&#916;A1-647 +AK2</text>
<line x1="286.8" y1="795.5" x2="326.3" y2="795.5" stroke="#63a644" stroke-width="1.75"/>
<rect x="301.65000000000003" y="790.6" width="9.8" height="9.8" fill="#74b257" stroke="#111" stroke-width="1.1"/>
<text x="329.90000000000003" y="799.3" font-size="10.9" fill="#1e1e1e" text-anchor="start" textLength="65.2" lengthAdjust="spacingAndGlyphs" >&#916;A1-Lock-647</text>
<line x1="286.8" y1="812.9" x2="326.3" y2="812.9" stroke="#603064" stroke-width="1.75"/>
<path d="M306.55 807.9 L311.55 817.5 L301.55 817.5 Z" fill="#7b4a7f" stroke="#111" stroke-width="1.2"/>
<text x="329.90000000000003" y="816.6999999999999" font-size="10.9" fill="#1e1e1e" text-anchor="start" textLength="82.0" lengthAdjust="spacingAndGlyphs" >&#916;A1-R1597W-647</text>
</g>
<g shape-rendering="crispEdges">
<rect x="0" y="0" width="1" height="848" fill="#8c8c8c"/>
<rect x="1" y="1" width="518" height="1" fill="#8a8a8a"/>
<rect x="1" y="0" width="518" height="1" fill="#0c0c0c"/>
<rect x="1" y="0" width="1" height="847" fill="#1a1a1a"/>
<rect x="518" y="0" width="1" height="847" fill="#111"/>
<rect x="1" y="846" width="518" height="1" fill="#111"/>
<rect x="519" y="0" width="1" height="848" fill="#8c8c8c"/>
<rect x="0" y="847" width="520" height="1" fill="#8c8c8c"/>
</g>
</svg>
</body></html>
